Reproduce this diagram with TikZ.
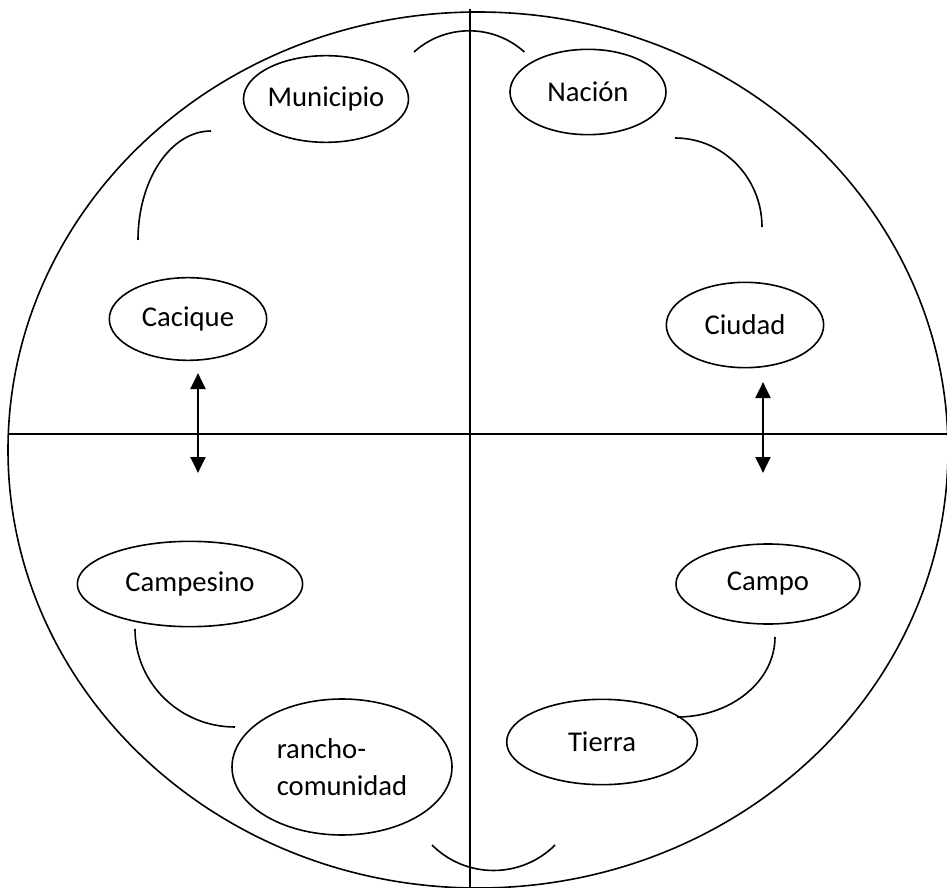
\documentclass[tikz,border=0pt]{standalone}
\usepackage{fontspec}
\setmainfont{Carlito}
\usetikzlibrary{shapes.geometric, arrows.meta}

\begin{document}
\begin{tikzpicture}[
     x = 0.75pt, y = -0.75pt,
     font = \fontsize{21.5}{28}\selectfont,
     oval/.style = {ellipse, draw, line width=1.2pt, inner sep=0pt},
     link/.style = {line width=1.2pt},
     axis/.style = {line width=1.2pt},
 dblarrow/.style = {line width=2.2pt, {Triangle[width=11pt,length=12pt]}-{Triangle[width=11pt,length=12pt]}}
                        ]
\clip (0,0) rectangle (947,888);
% big circle and the two axes
\draw[axis] (478,450) ellipse [x radius=470, y radius=438];
\coordinate (top) at (470,9);
\coordinate (bottom) at (470,888);
\coordinate (left) at (8,434);
\coordinate (right) at (947,434);
\draw[axis] (top) -- (bottom);
\draw[axis] (left) -- (right);

\node (municipio) [oval, minimum width=117pt, minimum height=65pt] at (326,99) {Municipio};
\node (nacion)    [oval, minimum width=117pt, minimum height=64pt] at (588,92) {Nación};
\node (cacique)   [oval, minimum width=118pt, minimum height=62pt] at (188,319) {Cacique};
\node (ciudad)    [oval, minimum width=118pt, minimum height=64pt] at (745,325) {Ciudad};
\node (campesino) [oval, minimum width=169pt, minimum height=64pt] at (190,584) {Campesino};
\node (campo)     [oval, minimum width=138pt, minimum height=60pt] at (768,584) {Campo};
\node (rancho)    [oval, minimum width=165pt, minimum height=102pt, align=left] at (342,767) {rancho-\\comunidad};
\node (tierra)    [oval, minimum width=143pt, minimum height=64pt] at (602,742) {Tierra};

% arcs between the ovals
\coordinate (a1) at (414,52);
\coordinate (a2) at (211,131);
\coordinate (a3) at (675,138);
\coordinate (a4) at (135,629);
\coordinate (a5) at (775,637);
\coordinate (a6) at (432,845);
\draw[link] (a1) arc [start angle=228, end angle=312, radius=82.5];
\draw[link] (a2) arc [start angle=270, end angle=180, x radius=73, y radius=109];
\draw[link] (a3) arc [start angle=270, end angle=360, x radius=87, y radius=89];
\draw[link] (a4) arc [start angle=180, end angle=90, x radius=100, y radius=98];
\draw[link] (a5) arc [start angle=0, end angle=90, x radius=98, y radius=80];
\draw[link] (a6) arc [start angle=135, end angle=45, radius=87];

% double arrows across the horizontal axis
\coordinate (l1) at (198,373);
\coordinate (l2) at (198,473);
\coordinate (r1) at (763,382);
\coordinate (r2) at (763,473);
\draw[dblarrow] (l1) -- (l2);
\draw[dblarrow] (r1) -- (r2);
\end{tikzpicture}
\end{document}
